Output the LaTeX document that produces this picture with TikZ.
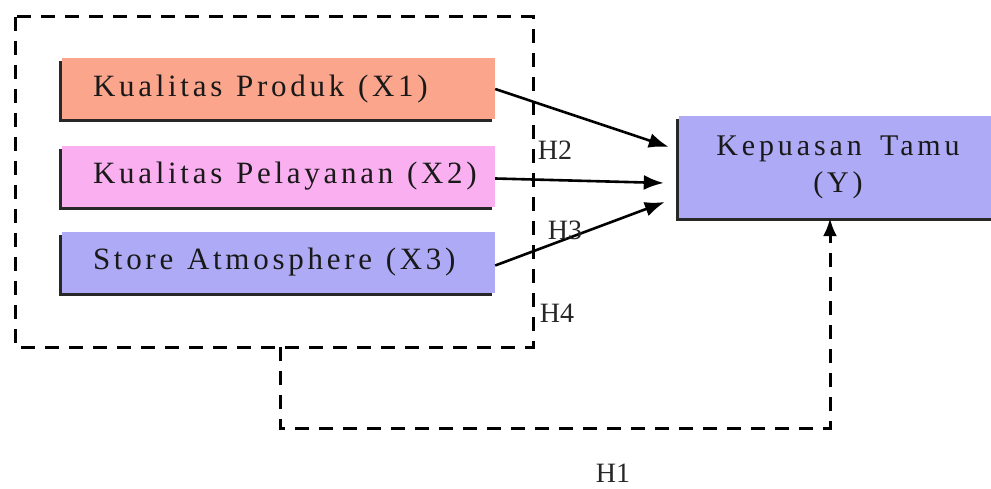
\documentclass[tikz,border=0pt]{standalone}
\usepackage{fontspec}
\setmainfont{Liberation Serif}
\newfontfamily\boxfont[LetterSpace=12,WordSpace=1.2]{Liberation Serif}
\newfontfamily\yfont[LetterSpace=13,WordSpace=1.6]{Liberation Serif}
\usetikzlibrary{arrows.meta}
\definecolor{cxone}{RGB}{250,165,140}
\definecolor{cxtwo}{RGB}{250,176,240}
\definecolor{cxthree}{RGB}{174,170,245}
\definecolor{shade}{RGB}{40,40,40}
\tikzset{
  varbox/.style={rectangle, draw=none, minimum width=433pt, minimum height=61pt, inner sep=0pt,
     preaction={fill=shade, transform canvas={xshift=-3pt,yshift=-3pt}}},
  boxtext/.style={anchor=west, xshift=31pt, inner sep=0pt, font=\boxfont\fontsize{31}{35}\selectfont, text=black!90},
  ybox/.style={rectangle, draw=none, minimum width=318pt, minimum height=102pt, inner sep=0pt, align=center,
     font=\yfont\fontsize{30}{35}\selectfont, text=black!90,
     preaction={fill=shade, transform canvas={xshift=-3pt,yshift=-3pt}}},
  dashline/.style={line width=3pt, dash pattern=on 14pt off 10pt},
  arr/.style={line width=2.6pt, -{Latex[length=20pt,width=15pt]}},
  hlab/.style={font=\fontsize{28}{30}\selectfont, text=black!85}
}
\begin{document}
\begin{tikzpicture}[x=1pt,y=-1pt]
\useasboundingbox (0,0) rectangle (991,489);
\node[draw=none, minimum width=518pt, minimum height=330pt, inner sep=0pt] (grp) at (274,182) {};
\draw[dashline] (15,17) rectangle (533,347);
\node[varbox, fill=cxone, label={[boxtext]west:Kualitas Produk (X1)}] (x1) at (278.5,89) {};
\node[varbox, fill=cxtwo, label={[boxtext]west:Kualitas Pelayanan (X2)}] (x2) at (278.5,176.5) {};
\node[varbox, fill=cxthree, label={[boxtext]west:Store Atmosphere (X3)}] (x3) at (278.5,262.5) {};
\node[ybox, fill=cxthree] (y) at (838,167)
  {Kepuasan Tamu\\[2pt](Y)};
\draw[arr] (x1.east) -- ([xshift=-10pt,yshift=20pt]y.west);
\draw[arr] ([yshift=-2pt]x2.east) -- ([xshift=-15pt,yshift=-16pt]y.west);
\draw[arr] ([yshift=-3pt]x3.east) -- ([xshift=-14pt,yshift=-35pt]y.west);
\draw[dashline, -{Latex[length=18pt,width=14pt]}] ([xshift=6pt]grp.south) -- ++(0,81) -| ([xshift=-8pt]y.south);
\node[hlab] (h2) at (555,150) {H2};
\node[hlab] (h3) at (565,230) {H3};
\node[hlab] (h4) at (557,313) {H4};
\node[hlab] (h1) at (613,473) {H1};
\end{tikzpicture}
\end{document}
